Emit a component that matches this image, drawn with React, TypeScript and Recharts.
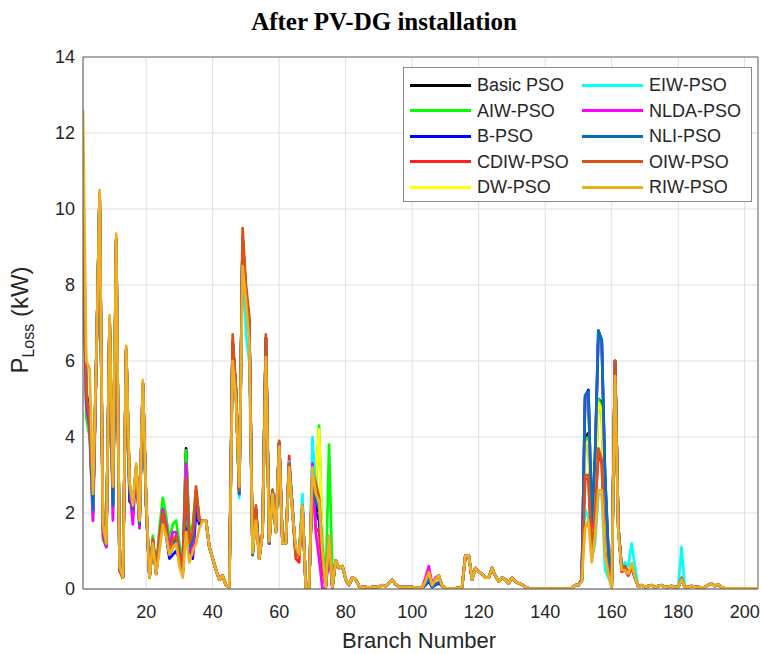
import React from 'react';
import { LineChart, Line, XAxis, YAxis, CartesianGrid, ReferenceLine } from 'recharts';

// Branch numbers (x categories)
const branches: number[] = [];
for (let b = 1; b <= 204; b++) branches.push(b);

const xTicks = [20, 40, 60, 80, 100, 120, 140, 160, 180, 200];
const yTicks = [0, 2, 4, 6, 8, 10, 12, 14];

// ---- shared quiet segments (all algorithms nearly identical) ----
const shared77to103 = [0.75,0.55,0.6,0.25,0.1,0.3,0.25,0.08,0.05,0.05,0.04,0.05,0.05,0.06,0.1,0.08,0.15,0.24,0.12,0.06,0.05,0.05,0.05,0.05,0.04,0.04,0.03];
const shared109to150 = [0.08,0.02,0.02,0.02,0.02,0.03,0.05,0.88,0.88,0.25,0.55,0.45,0.4,0.3,0.3,0.55,0.35,0.2,0.3,0.25,0.15,0.3,0.2,0.15,0.12,0.05,0.02,0.01,0.01,0.01,0.01,0.01,0.01,0.01,0.01,0.01,0.01,0.01,0.01,0.01,0.1,0.1];
const shared169to180 = [0.1,0.05,0.08,0.1,0.05,0.08,0.1,0.06,0.05,0.08,0.05,0.05];
const shared182to204 = [0.05,0.05,0.08,0.06,0.05,0.04,0.05,0.1,0.15,0.08,0.12,0.05,0.02,0.02,0.02,0.02,0.02,0.02,0.02,0.02,0.02,0.02,0.02];

// ---- Basic PSO ----
const basicA = [9.4,4.9,4.3,2.0, 6.0,10.4,1.6,1.2,7.1,2.2,9.2,0.5,0.3,6.3,2.7,2.1,3.2,1.7,5.4,2.2,0.3,
  1.25,0.4,1.3,1.9,1.5,0.9,1.1,1.2,0.9,0.45,3.7,1.1,1.2,2.3,1.8,1.8,1.8,1.1,0.8,0.5,0.25,0.35,0.1,0.05,
  6.5,5.2,2.5,9.2,7.8,7.0,0.9,2.1,0.8,1.5,6.6,1.2,2.6,1.5,3.85,1.2,1.2,3.3,2.1,0.9,0.9,2.2,0.05,0.05,
  3.0,2.2,2.0,0.8,0.05,1.3,0.05];
const basicB = [0.2,0.45,0.1,0.25,0.35];
const basicC = [0.2,4.0,4.1,1.2,2.8,5.0,4.9,1.6,0.6,0.05,6.0,1.6,0.5,0.55,0.4,0.6,0.3,0.06];
const basic181 = 0.25;

// ---- AIW-PSO ----
const aiwA = [9.3,4.5,4.0,1.8, 6.0,10.4,1.3,1.1,7.1,1.85,9.2,0.5,0.3,6.3,2.6,2.0,3.2,1.6,5.4,2.2,0.3,
  1.4,0.5,1.6,2.4,1.9,1.3,1.7,1.8,1.2,0.7,3.65,1.5,1.7,2.6,1.8,1.8,1.8,1.1,0.8,0.5,0.25,0.35,0.1,0.05,
  6.5,5.2,2.5,9.2,7.8,7.0,0.9,2.1,0.8,1.5,6.6,1.2,2.6,1.5,3.85,1.2,1.2,3.3,2.1,0.9,0.9,2.2,0.05,0.05,
  3.0,2.6,4.3,1.2,0.1,3.8,0.3];
const aiwB = [0.2,0.45,0.1,0.25,0.35];
const aiwC = [0.2,3.9,4.0,1.1,2.6,5.0,4.8,1.5,0.6,0.05,6.0,1.6,0.5,0.5,0.4,0.6,0.3,0.06];
const aiw181 = 0.25;

// ---- B-PSO ----
const bA = [10.5,5.2,4.6,2.1, 6.0,10.4,1.6,1.2,7.1,2.2,9.2,0.5,0.3,6.3,2.3,2.2,3.2,1.8,5.4,2.2,0.3,
  1.2,0.4,1.2,1.8,1.4,0.8,0.9,1.0,0.8,0.4,2.1,1.0,0.8,2.0,1.7,1.8,1.8,1.1,0.8,0.5,0.25,0.35,0.1,0.05,
  6.5,5.2,2.5,9.2,7.8,7.0,0.9,2.1,0.8,1.5,6.6,1.2,2.6,1.5,3.85,1.2,1.2,3.3,2.1,0.9,0.9,2.2,0.05,0.05,
  2.9,2.0,1.8,0.7,0.05,1.3,0.05];
const bB = [0.1,0.2,0.05,0.1,0.15];
const bC = [0.25,5.06,5.24,1.7,3.5,6.8,6.55,3.0,1.0,0.05,6.0,1.6,0.55,0.6,0.4,0.6,0.3,0.06];
const b181 = 0.25;

// ---- CDIW-PSO ----
const cdiwA = [9.4,5.0,4.3,2.1, 6.0,10.4,1.6,1.2,7.1,2.2,9.2,0.5,0.3,6.3,2.7,2.2,3.2,1.8,5.4,2.3,0.3,
  1.3,0.45,1.4,2.0,1.6,1.0,1.3,1.4,0.9,0.5,2.8,1.2,1.4,2.6,1.8,1.8,1.8,1.1,0.8,0.5,0.25,0.35,0.1,0.05,
  6.5,5.2,2.5,9.2,7.8,7.0,0.9,2.1,0.8,1.5,6.6,1.2,2.6,1.5,3.85,1.2,1.2,3.5,2.0,0.8,0.7,2.2,0.05,0.05,
  3.0,1.6,1.5,0.5,0.05,1.2,0.05];
const cdiwB = [0.2,0.45,0.1,0.25,0.35];
const cdiwC = [0.2,2.9,2.9,0.9,2.0,3.6,3.3,1.0,0.5,0.05,6.0,1.6,0.45,0.5,0.35,0.55,0.3,0.06];
const cdiw181 = 0.28;

// ---- DW-PSO ----
const dwA = [9.4,5.0,4.4,2.1, 6.0,10.4,1.6,1.2,7.1,2.2,9.2,0.5,0.3,6.3,2.7,2.2,3.2,1.8,5.4,2.3,0.3,
  1.3,0.45,1.4,1.9,1.5,0.95,1.2,1.3,0.85,0.45,2.5,1.1,1.3,2.5,1.8,1.8,1.8,1.1,0.8,0.5,0.25,0.35,0.1,0.05,
  6.5,5.2,2.5,9.2,7.8,7.0,0.9,2.1,0.8,1.5,6.6,1.2,2.6,1.5,3.85,1.2,1.2,3.3,2.1,0.9,0.9,2.2,0.05,0.05,
  3.1,2.8,4.2,1.0,0.05,1.4,0.05];
const dwB = [0.2,0.45,0.1,0.25,0.35];
const dwC = [0.2,3.8,3.9,1.0,2.5,4.9,4.7,1.5,0.6,0.05,6.0,1.6,0.5,0.55,0.4,0.6,0.3,0.06];
const dw181 = 0.25;

// ---- EIW-PSO ----
const eiwA = [9.4,5.0,4.4,2.2, 6.0,10.4,1.6,1.2,7.1,2.2,9.2,0.5,0.3,6.3,2.7,2.2,3.2,1.8,5.4,2.3,0.3,
  1.3,0.45,1.4,1.9,1.5,0.95,1.2,1.3,0.85,0.45,2.5,1.1,1.3,2.5,1.8,1.8,1.8,1.1,0.8,0.5,0.25,0.35,0.1,0.05,
  6.3,5.1,2.4,9.0,6.7,6.0,0.9,2.0,0.8,1.5,6.4,1.2,2.6,1.5,3.8,1.2,1.2,3.35,2.2,1.0,1.0,2.5,0.05,0.05,
  4.0,2.6,2.4,1.0,0.05,1.4,0.05];
const eiwB = [0.2,0.45,0.1,0.25,0.35];
const eiwC = [0.2,2.1,1.9,0.8,1.2,2.5,2.5,0.5,0.3,0.05,5.9,1.6,0.6,0.7,0.6,1.2,0.6,0.06];
const eiw181 = 1.1;

// ---- NLDA-PSO ----
const nldaA = [9.4,4.8,4.2,1.8, 6.0,10.4,1.4,1.1,7.1,1.8,9.2,0.5,0.3,6.3,2.6,1.7,3.2,1.6,5.4,2.2,0.3,
  1.3,0.45,1.4,2.1,1.7,1.1,1.5,1.5,1.0,0.5,3.3,1.2,0.9,2.4,1.8,1.8,1.8,1.1,0.8,0.5,0.25,0.35,0.1,0.05,
  6.5,5.2,2.5,9.2,7.8,7.0,0.9,2.1,0.8,1.5,6.6,1.2,2.6,1.5,3.85,1.2,1.2,3.3,2.1,0.9,0.9,2.2,0.05,0.05,
  3.3,1.5,0.8,0.02,0.02,1.0,0.02];
const nldaB = [0.3,0.6,0.12,0.3,0.35];
const nldaC = [0.25,5.0,5.15,1.6,3.4,6.7,6.5,2.8,0.9,0.05,6.0,1.6,0.55,0.6,0.4,0.6,0.3,0.06];
const nlda181 = 0.25;

// ---- NLI-PSO ----
const nliA = [9.5,5.0,4.4,2.1, 6.0,10.4,1.6,1.2,7.1,2.2,9.2,0.5,0.3,6.3,2.6,2.1,3.2,1.7,5.4,2.2,0.3,
  1.3,0.45,1.3,1.9,1.5,0.95,1.2,1.3,0.85,0.45,2.6,1.1,1.3,2.5,1.8,1.8,1.8,1.1,0.8,0.5,0.25,0.35,0.1,0.05,
  6.5,5.2,2.5,9.2,7.8,7.0,0.9,2.1,0.8,1.5,6.6,1.2,2.6,1.5,3.85,1.2,1.2,3.3,2.1,0.9,0.9,2.2,0.05,0.05,
  3.0,2.3,2.1,0.9,0.05,1.3,0.05];
const nliB = [0.12,0.25,0.05,0.12,0.18];
const nliC = [0.25,5.1,5.2,1.8,3.5,6.8,6.55,3.0,1.0,0.05,6.0,1.6,0.55,0.6,0.4,0.6,0.3,0.06];
const nli181 = 0.25;

// ---- OIW-PSO ----
const oiwA = [9.45,5.1,4.5,2.6, 6.0,10.4,1.6,1.2,7.1,2.7,9.2,0.5,0.3,6.3,2.8,2.2,3.2,1.8,5.4,2.3,0.3,
  1.3,0.45,1.4,2.0,1.6,1.0,1.3,1.4,0.9,0.5,2.9,1.2,1.5,2.7,1.8,1.8,1.8,1.1,0.8,0.5,0.25,0.35,0.1,0.05,
  6.7,5.3,2.6,9.5,8.0,7.2,0.95,2.2,0.8,1.5,6.7,1.25,2.6,1.5,3.9,1.2,1.2,3.3,2.1,0.85,0.9,2.2,0.05,0.05,
  3.1,2.8,2.4,1.0,0.05,1.4,0.05];
const oiwB = [0.2,0.45,0.1,0.25,0.35];
const oiwC = [0.2,3.0,3.0,0.9,2.0,3.7,3.4,1.0,0.5,0.05,6.0,1.6,0.55,0.6,0.4,0.6,0.3,0.06];
const oiw181 = 0.3;

// ---- RIW-PSO ----
const riwA = [12.6,6.0,5.8,2.5, 6.0,10.5,1.7,1.2,7.2,2.7,9.35,0.6,0.3,6.4,2.8,2.2,3.3,1.8,5.5,2.3,0.3,
  1.2,0.4,1.0,1.7,1.4,0.9,1.1,1.2,0.6,0.3,1.5,0.7,1.0,1.2,1.6,1.8,1.8,1.1,0.8,0.5,0.25,0.35,0.1,0.05,
  6.0,5.0,2.7,8.5,7.6,6.5,0.95,1.8,0.8,1.5,6.1,1.25,2.5,1.5,3.75,1.2,1.2,3.2,2.0,1.1,0.9,2.2,0.05,0.05,
  3.2,2.5,2.3,1.0,0.05,1.4,0.05];
const riwB = [0.2,0.45,0.1,0.25,0.35];
const riwC = [0.2,1.6,1.8,0.7,1.4,2.6,2.6,0.9,0.4,0.05,5.6,1.5,0.5,0.5,0.4,0.68,0.32,0.06];
const riw181 = 0.25;

function assemble(a: number[], b: number[], c: number[], v181: number): number[] {
  return [...a, ...shared77to103, ...b, ...shared109to150, ...c, ...shared169to180, v181, ...shared182to204];
}

const seriesDefs = [
  { key: 'basic', name: 'Basic PSO', color: '#000000', values: assemble(basicA, basicB, basicC, basic181) },
  { key: 'aiw', name: 'AIW-PSO', color: '#00FF00', values: assemble(aiwA, aiwB, aiwC, aiw181) },
  { key: 'bpso', name: 'B-PSO', color: '#0000FF', values: assemble(bA, bB, bC, b181) },
  { key: 'cdiw', name: 'CDIW-PSO', color: '#FF2020', values: assemble(cdiwA, cdiwB, cdiwC, cdiw181) },
  { key: 'dw', name: 'DW-PSO', color: '#FFFF00', values: assemble(dwA, dwB, dwC, dw181) },
  { key: 'eiw', name: 'EIW-PSO', color: '#00FFFF', values: assemble(eiwA, eiwB, eiwC, eiw181) },
  { key: 'nlda', name: 'NLDA-PSO', color: '#FF00FF', values: assemble(nldaA, nldaB, nldaC, nlda181) },
  { key: 'nli', name: 'NLI-PSO', color: '#0072BD', values: assemble(nliA, nliB, nliC, nli181) },
  { key: 'oiw', name: 'OIW-PSO', color: '#D95319', values: assemble(oiwA, oiwB, oiwC, oiw181) },
  { key: 'riw', name: 'RIW-PSO', color: '#EDB120', values: assemble(riwA, riwB, riwC, riw181) },
];

const rows = branches.map((b, i) => {
  const r: Record<string, number> = { b };
  seriesDefs.forEach((s) => { r[s.key] = s.values[i]; });
  return r;
});

const SANS = '"Liberation Sans", Arial, Helvetica, sans-serif';
const SERIF = '"Liberation Serif", "Times New Roman", serif';

export default function App() {
  const legendRowsY = [17, 42.5, 68, 93.5, 119];
  return (
    <div style={{ position: 'absolute', left: 0, top: 0, width: 761, height: 654, background: '#fff' }}>
      <LineChart width={761} height={654} data={rows} margin={{ top: 57, right: 3, left: 23, bottom: 35 }}>
        <CartesianGrid stroke="#dedede" strokeWidth={1} />
        <XAxis
          dataKey="b"
          type="number"
          domain={[1, 204]}
          ticks={xTicks}
          allowDataOverflow
          axisLine={{ stroke: '#555', strokeWidth: 1 }}
          tickLine={false}
          tickMargin={10}
          tick={{ fill: '#262626', fontSize: 18, fontFamily: SANS }}
        />
        <YAxis
          type="number"
          domain={[0, 14]}
          ticks={yTicks}
          allowDataOverflow
          width={60}
          axisLine={{ stroke: '#555', strokeWidth: 1 }}
          tickLine={false}
          tick={{ fill: '#262626', fontSize: 18, fontFamily: SANS }}
        />
        <ReferenceLine y={14} stroke="#666" strokeWidth={1} />
        <ReferenceLine x={204} stroke="#666" strokeWidth={1} />
        {seriesDefs.map((s) => (
          <Line
            key={s.key}
            dataKey={s.key}
            name={s.name}
            stroke={s.color}
            strokeWidth={2.7}
            strokeLinejoin="round"
            dot={false}
            activeDot={false}
            type="linear"
            isAnimationActive={false}
          />
        ))}
      </LineChart>

      <div style={{ position: 'absolute', left: 0, top: 8, width: 768, textAlign: 'center', fontFamily: SERIF, fontWeight: 'bold', fontSize: 25, color: '#000', lineHeight: '28px' }}>
        After PV-DG installation
      </div>

      <div style={{ position: 'absolute', left: 21, top: 320, transform: 'translate(-50%, -50%) rotate(-90deg)', whiteSpace: 'nowrap', fontFamily: SANS, fontSize: 24, color: '#262626', lineHeight: '28px' }}>
        P<span style={{ fontSize: 16, position: 'relative', top: 6 }}>Loss</span> (kW)
      </div>

      <div style={{ position: 'absolute', left: 0, top: 628, width: 838, textAlign: 'center', fontFamily: SANS, fontSize: 22, color: '#262626', lineHeight: '26px' }}>
        Branch Number
      </div>

      <div style={{ position: 'absolute', left: 403, top: 67, width: 349, height: 135, border: '1px solid #8a8a8a', background: '#fff', boxSizing: 'border-box' }}>
        {seriesDefs.map((s, i) => {
          const col = i < 5 ? 0 : 1;
          const row = i % 5;
          const lx = col === 0 ? 6 : 178;
          const tx = col === 0 ? 73 : 245;
          const cy = legendRowsY[row];
          return (
            <React.Fragment key={s.key}>
              <div style={{ position: 'absolute', left: lx, top: cy - 1.5, width: 61, height: 3, background: s.color }} />
              <div style={{ position: 'absolute', left: tx, top: cy - 11, height: 22, lineHeight: '22px', fontFamily: SANS, fontSize: 18, color: '#262626', whiteSpace: 'nowrap' }}>
                {s.name}
              </div>
            </React.Fragment>
          );
        })}
      </div>
    </div>
  );
}
